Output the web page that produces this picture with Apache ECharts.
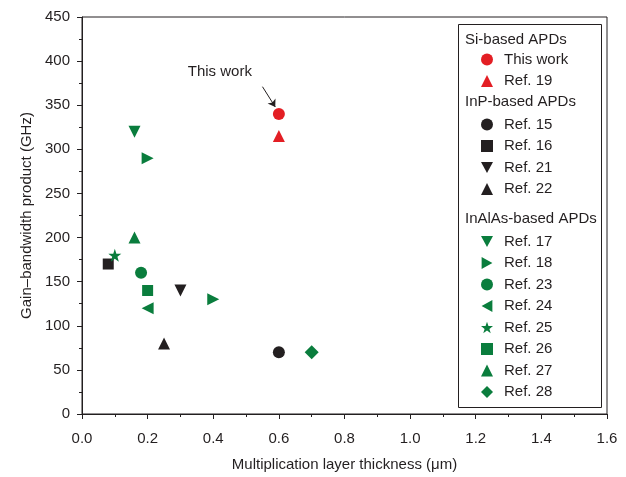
<!DOCTYPE html>
<html>
<head>
<meta charset="utf-8">
<script src="https://cdn.jsdelivr.net/npm/echarts@6/dist/echarts.min.js"></script>
<style>
  html, body { margin: 0; padding: 0; background: #fff; }
  #chart { width: 626px; height: 477px; }
</style>
</head>
<body>
<div id="chart"></div>
<script>
var FONT = "'Liberation Sans', Arial, sans-serif";
var RED = '#e31e24', GREEN = '#0a7d3d', BLACK = '#231f20';

// data: [thickness (um), GBP (GHz)]
var siThisWork = [[0.6, 340]];
var siRef19 = [[0.6, 315]];
var inpRef15 = [[0.6, 70]];
var inpRef16 = [[0.08, 170]];
var inpRef21 = [[0.3, 140]];
var inpRef22 = [[0.25, 80]];
var alRef17 = [[0.16, 320]];
var alRef18 = [[0.2, 290], [0.4, 130]];
var alRef23 = [[0.18, 160]];
var alRef24 = [[0.2, 120]];
var alRef25 = [[0.1, 180]];
var alRef26 = [[0.2, 140]];
var alRef27 = [[0.16, 200]];
var alRef28 = [[0.7, 70]];

var xTicks = [0, 0.2, 0.4, 0.6, 0.8, 1.0, 1.2, 1.4, 1.6];
var yTicks = [0, 50, 100, 150, 200, 250, 300, 350, 400, 450];

var DOWN = 'path://M0,0L10,0L5,9Z';
var RIGHT = 'path://M0,0L9,5L0,10Z';
var LEFT = 'path://M9,0L0,5L9,10Z';
var STAR = 'path://M5,0L6.2,3.6L10,3.6L7,5.9L8.1,9.5L5,7.3L1.9,9.5L3,5.9L0,3.6L3.8,3.6Z';

function sc(name, data, symbol, color, size) {
  return {
    name: name, type: 'scatter', data: data, symbol: symbol,
    symbolSize: size || 12, itemStyle: { color: color, opacity: 1 },
    z: 3
  };
}

var series = [
  sc('This work', siThisWork, 'circle', RED),
  sc('Ref. 19', siRef19, 'triangle', RED),
  sc('Ref. 15', inpRef15, 'circle', BLACK),
  sc('Ref. 16', inpRef16, 'rect', BLACK, 11),
  sc('Ref. 21', inpRef21, DOWN, BLACK),
  sc('Ref. 22', inpRef22, 'triangle', BLACK),
  sc('Ref. 17', alRef17, DOWN, GREEN),
  sc('Ref. 18', alRef18, RIGHT, GREEN),
  sc('Ref. 23', alRef23, 'circle', GREEN),
  sc('Ref. 24', alRef24, LEFT, GREEN),
  sc('Ref. 25', alRef25, STAR, GREEN, 13),
  sc('Ref. 26', alRef26, 'rect', GREEN, 11),
  sc('Ref. 27', alRef27, 'triangle', GREEN),
  sc('Ref. 28', alRef28, 'diamond', GREEN, 14)
];

// annotation arrow + text
series[0].markLine = {
  silent: true,
  symbol: ['none', 'arrow'], symbolSize: 7,
  lineStyle: { color: BLACK, width: 1, type: 'solid' },
  label: { show: false },
  data: [[{ coord: [0.55, 371] }, { coord: [0.589, 348] }]]
};
series[0].markPoint = {
  silent: true, symbol: 'circle', symbolSize: 1,
  itemStyle: { color: 'rgba(0,0,0,0)' },
  label: { show: true, position: 'inside', formatter: 'This work', color: BLACK, fontSize: 15, fontFamily: FONT },
  data: [{ coord: [0.42, 388] }]
};

function leg(names, top) {
  return {
    orient: 'vertical', left: 481, top: top, padding: 0,
    data: names, itemWidth: 12, itemHeight: 12, itemGap: 6.5,
    selectedMode: false,
    textStyle: { color: BLACK, fontSize: 15, fontFamily: FONT, padding: [0, 0, 0, 6] }
  };
}

var header = function (text, y) {
  return {
    type: 'text', left: 465, top: y - 9,
    style: { text: text, fill: BLACK, fontSize: 15, fontFamily: FONT }
  };
};

var option = {
  animation: false,
  backgroundColor: '#fff',
  grid: { left: 82, right: 19, top: 17, bottom: 61, show: true, borderColor: BLACK, borderWidth: 1 },
  xAxis: {
    type: 'value', min: 0, max: 1.6, interval: 0.2,
    name: 'Multiplication layer thickness (\u03bcm)', nameLocation: 'middle', nameGap: 43,
    nameTextStyle: { color: BLACK, fontSize: 15, fontFamily: FONT },
    axisLine: { lineStyle: { color: BLACK } },
    axisTick: { inside: false, length: 5, lineStyle: { color: BLACK } },
    minorTick: { show: true, splitNumber: 2, length: 3, lineStyle: { color: BLACK } },
    splitLine: { show: false },
    axisLabel: { color: BLACK, fontSize: 15, fontFamily: FONT, margin: 14, padding: [3, 0, 0, 0],
      formatter: function (v) { return xTicks.indexOf(+v.toFixed(1)) >= 0 ? v.toFixed(1) : ''; } }
  },
  yAxis: {
    type: 'value', min: 0, max: 450, interval: 50,
    name: 'Gain\u2013bandwidth product (GHz)', nameLocation: 'middle', nameGap: 48,
    nameTextStyle: { color: BLACK, fontSize: 15, fontFamily: FONT },
    axisLine: { show: true, lineStyle: { color: BLACK } },
    axisTick: { show: true, inside: false, length: 5, lineStyle: { color: BLACK } },
    minorTick: { show: true, splitNumber: 2, length: 3, lineStyle: { color: BLACK } },
    splitLine: { show: false },
    axisLabel: { color: BLACK, fontSize: 15, fontFamily: FONT, margin: 12,
      formatter: function (v) { return yTicks.indexOf(v) >= 0 ? String(v) : ''; } }
  },
  legend: [
    leg(['This work', 'Ref. 19'], 52),
    leg(['Ref. 15', 'Ref. 16', 'Ref. 21', 'Ref. 22'], 117),
    leg(['Ref. 17', 'Ref. 18', 'Ref. 23', 'Ref. 24', 'Ref. 25', 'Ref. 26', 'Ref. 27', 'Ref. 28'], 234)
  ],
  graphic: [
    { type: 'rect', shape: { x: 458.5, y: 24.5, width: 143, height: 383 },
      style: { fill: '#fff', stroke: BLACK, lineWidth: 1 }, z: 0 },
    header('Si-based APDs', 41),
    header('InP-based APDs', 103),
    header('InAlAs-based APDs', 220)
  ],
  series: series
};

var chart = echarts.init(document.getElementById('chart'));
chart.setOption(option);
</script>
</body>
</html>
